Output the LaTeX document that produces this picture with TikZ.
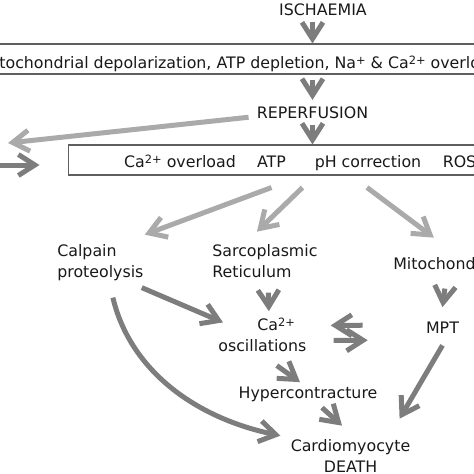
\documentclass[tikz,border=0pt]{standalone}
\usepackage{fontspec}
\setmainfont{DejaVu Sans}
\usetikzlibrary{arrows.meta, calc, positioning}
\definecolor{arrowdark}{RGB}{125,125,125}
\definecolor{arrowlight}{RGB}{170,170,170}
\definecolor{boxgray}{RGB}{95,95,95}
\definecolor{textdark}{RGB}{25,25,25}
\newcommand{\upidx}[1]{\raisebox{0.08cm}{\fontsize{6.5pt}{7pt}\selectfont #1}}
\tikzset{
  lbl/.style={inner sep=0.12cm, text=textdark, font=\fontsize{9pt}{11.95pt}\selectfont},
  box/.style={draw=boxgray, line width=0.6pt, inner sep=0pt, minimum height=0.6cm},
  darr/.style={draw=arrowdark, line width=0.1cm, -{Straight Barb[length=0.33cm, width=0.42cm]}},
  larr/.style={darr, draw=arrowlight},
}

\begin{document}
\begin{tikzpicture}[x=0.02cm, y=-0.02cm]
    \useasboundingbox (0,0) rectangle (474,474);
    \clip (0,0) rectangle (474,474);
    % ischaemia and the first box
    \node[lbl, anchor=base] (isch) at (323,15) {ISCHAEMIA};
    \node[box, minimum width=9.88cm] (box1) at (237,59) {};
    \node[lbl, anchor=base west] (box1txt) at (-25,68) {Mitochondrial depolarization, ATP depletion, Na\upidx{+} \& Ca\upidx{2+} overload};
    \node[lbl, anchor=base] (rep) at (312.5,118) {REPERFUSION};
    % second box
    \node[box, minimum width=8.44cm] (box2) at (279,160) {};
    \node[lbl, anchor=base] (ca) at (180,167) {Ca\upidx{2+} overload};
    \node[lbl, anchor=base] (atp) at (271.5,167) {ATP};
    \node[lbl, anchor=base] (ph) at (368,167) {pH correction};
    \node[lbl, anchor=base] (ros) at (459.5,167) {ROS};
    % targets
    \node[lbl, anchor=base west, align=left] (calp) at (51,277) {Calpain\\proteolysis};
    \node[lbl, anchor=base west, align=left] (sr) at (206,277) {Sarcoplasmic\\Reticulum};
    \node[lbl, anchor=base west] (mito) at (387,269) {Mitochondria};
    \node[lbl, anchor=base west, align=left] (caosc) at (212,351) {\hspace*{0.78cm}Ca\upidx{2+}\\oscillations};
    \node[lbl, anchor=base] (mpt) at (442.5,333) {MPT};
    \node[lbl, anchor=base] (hyper) at (308,398) {Hypercontracture};
    \node[lbl, anchor=base, align=center] (death) at (350.5,472) {Cardiomyocyte\\DEATH};
    \coordinate (lend) at (8,143);
    \coordinate (din) at (-5,165);

    % arrows
    \draw[darr] (isch.south -| rep) -- (box1.north -| rep);
    \draw[darr, shorten <=0.1cm] (box1.south -| rep) -- (rep.north);
    \draw[darr] (rep.south) -- (box2.north -| rep);
    \draw[larr] ($(rep.west)+(-2,5)$) -- (lend);
    \draw[darr] (din) -- ($(box2.west)+(-28,5)$);
    \draw[larr] ($(box2.south -| atp)+(0,12)$) -- ($(calp.north east)+(-5,-3)$);
    \draw[larr] ($(box2.south -| atp)+(31,12)$) -- ($(sr.north)+(-8,-6)$);
    \draw[larr] ($(box2.south -| ph)+(-1,12)$) -- ($(mito.north)+(-11,-13)$);
    \draw[darr] ($(sr.south)+(3.5,9)$) -- ($(caosc.north)+(6.5,0)$);
    \draw[darr] ($(mito.south)+(0,13)$) -- ($(mpt.north)+(0,-8)$);
    \draw[darr] ($(mpt.west)+(-57,-2)$) -- ($(caosc.east)+(18,-9)$);
    \draw[darr] ($(caosc.east)+(21,6)$) -- ($(mpt.west)+(-52,13)$);
    \draw[darr] ($(calp.south east)+(-8,1)$) -- ($(caosc.west)+(11,-12)$);
    \draw[darr] ($(calp.south)+(12.5,11)$) .. controls (130,370) and (195,418) .. ($(death.north west)+(-4,3)$);
    \draw[darr] ($(caosc.south)+(14.5,8)$) -- ($(hyper.north)+(-8,2)$);
    \draw[darr] ($(hyper.south)+(14,0)$) -- ($(death.north)+(-8.5,-7)$);
    \draw[darr] ($(mpt.south)+(0,6)$) -- ($(death.north east)+(-17,-14)$);
\end{tikzpicture}
\end{document}
